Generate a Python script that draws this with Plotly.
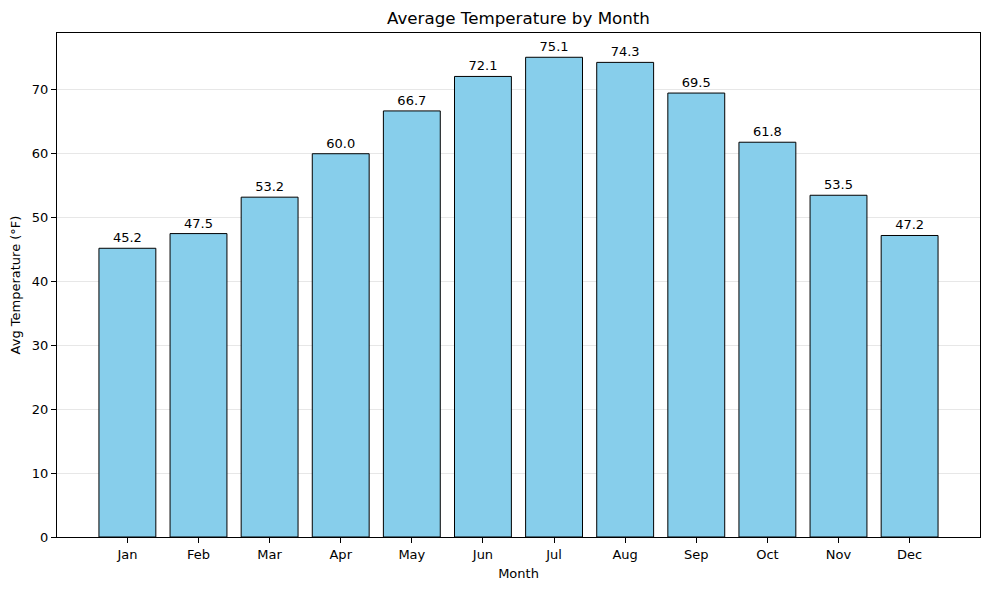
import plotly.graph_objects as go

months = ["Jan", "Feb", "Mar", "Apr", "May", "Jun", "Jul", "Aug", "Sep", "Oct", "Nov", "Dec"]
avg_temp = [45.2, 47.5, 53.2, 60.0, 66.7, 72.1, 75.1, 74.3, 69.5, 61.8, 53.5, 47.2]
y_ticks = [0, 10, 20, 30, 40, 50, 60, 70]

font = "DejaVu Sans"

fig = go.Figure()
fig.add_trace(
    go.Bar(
        x=list(range(len(months))),
        y=avg_temp,
        width=0.8,
        marker=dict(color="#87CEEB", line=dict(color="black", width=1)),
        text=[f"{v:.1f}" for v in avg_temp],
        textposition="outside",
        textfont=dict(family=font, size=13, color="black"),
        cliponaxis=False,
    )
)

fig.update_layout(
    width=989,
    height=590,
    margin=dict(l=49, r=17, t=25, b=61),
    paper_bgcolor="white",
    plot_bgcolor="white",
    showlegend=False,
    font=dict(family=font, size=13, color="black"),
    title=dict(
        text="Average Temperature by Month",
        xref="paper",
        x=0.5,
        xanchor="center",
        y=1 - 10 / 590,
        yanchor="middle",
        font=dict(family=font, size=16.7, color="black"),
    ),
    xaxis=dict(
        title=dict(text="Month", standoff=8, font=dict(size=13)),
        tickmode="array",
        tickvals=list(range(len(months))),
        ticktext=months,
        range=[-0.99, 11.99],
        showgrid=False,
        zeroline=False,
        showline=True,
        linecolor="black",
        linewidth=1,
        mirror=True,
        ticks="outside",
        ticklen=5,
        tickcolor="black",
        automargin=False,
    ),
    yaxis=dict(
        title=dict(text="Avg Temperature (°F)", standoff=10, font=dict(size=13)),
        tickmode="array",
        tickvals=y_ticks,
        range=[0, 78.9],
        showgrid=True,
        gridcolor="rgba(176,176,176,0.3)",
        gridwidth=1,
        zeroline=False,
        showline=True,
        linecolor="black",
        linewidth=1,
        mirror=True,
        ticks="outside",
        ticklen=5,
        tickcolor="black",
        automargin=False,
    ),
)

fig.write_html("out.html")
